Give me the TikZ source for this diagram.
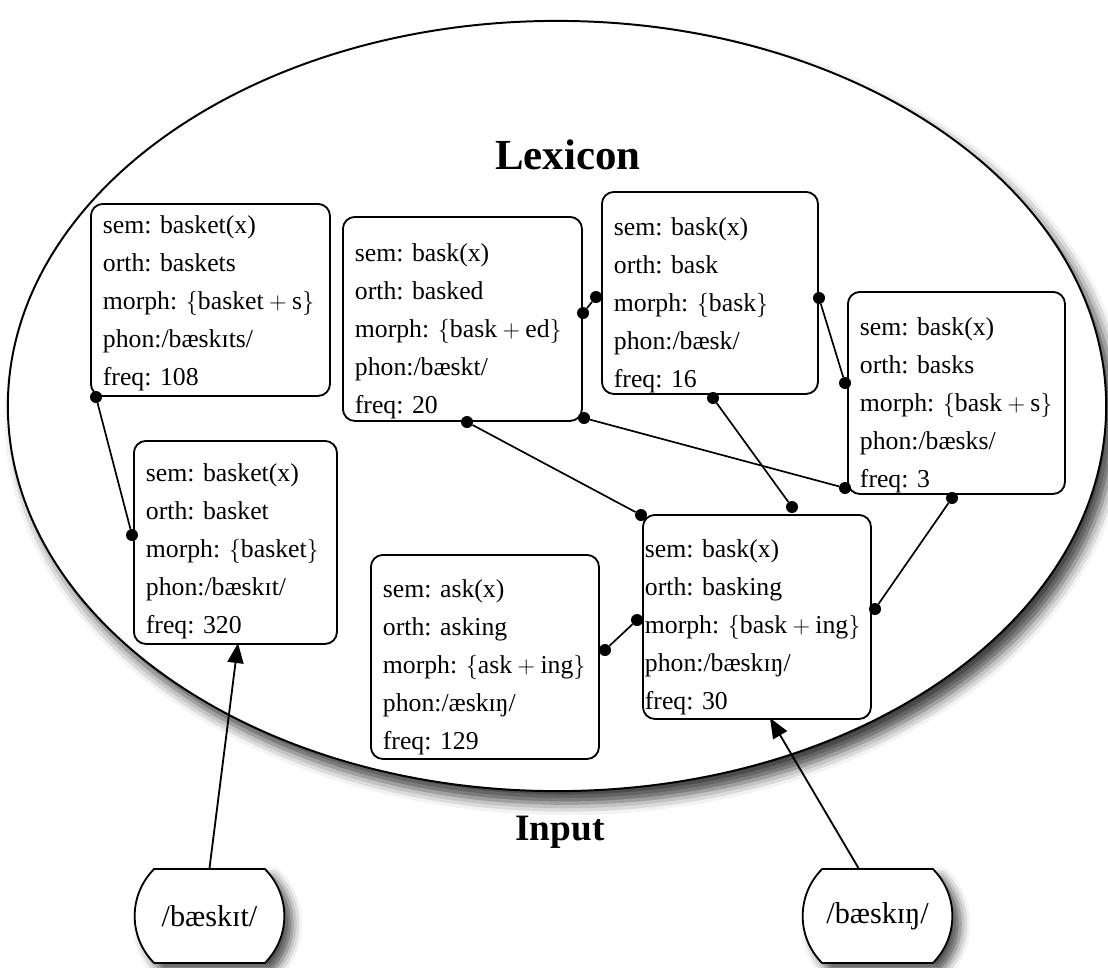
\documentclass[tikz,border=0pt]{standalone}
\usepackage{fontspec}
\setmainfont{Liberation Serif}
\usetikzlibrary{shapes.misc, shapes.geometric, shadows.blur, arrows.meta}

\frenchspacing
\newcommand{\lexfont}{\fontsize{18.3}{27}\selectfont}
\newcommand{\mrph}[1]{$\{\mbox{#1}\}$}
\newcommand{\lexgap}[1]{\rule{0pt}{#1}}

\begin{document}
\begin{tikzpicture}[x=0.025cm, y=-0.025cm,
    lexbox/.style={draw, line width=1.3pt, fill=white, rounded corners=0.3cm,
      align=left, anchor=north west, inner xsep=0.3cm, inner ysep=0pt, font=\lexfont},
    lexarea/.style={draw, ellipse, line width=1.4pt, fill=white,
      minimum width=27.45cm, minimum height=19.25cm,
      blur shadow={shadow xshift=0.22cm, shadow yshift=-0.3cm, shadow blur radius=0.3cm, shadow opacity=75}},
    inbox/.style={draw, rounded rectangle, rounded rectangle arc length=90, line width=1.3pt,
      fill=white, minimum width=3.975cm, minimum height=2.35cm, font=\fontsize{21.5}{26}\selectfont,
      blur shadow={shadow xshift=0.2cm, shadow yshift=-0.2cm, shadow blur radius=0.25cm, shadow opacity=70}},
    dot/.style={circle, fill=black, inner sep=0pt, minimum size=0.3cm},
    link/.style={line width=1.2pt},
    feed/.style={line width=1.3pt, -{Triangle[length=0.5cm, width=0.4cm]}}]
  \useasboundingbox (0,0) rectangle (1108,967);

  % Lexicon area
  \node[lexarea] (lexicon) at (557,406) {};
  \node[font=\fontsize{30.5}{36}\selectfont\bfseries] (lextitle) at (568,155) {Lexicon};
  \node[font=\fontsize{26.5}{32}\selectfont\bfseries] (intitle) at (560,832) {Input};

  % Entries
  \node[lexbox, text width=5.375cm, minimum height=4.8cm] (baskets) at (90,203)
    {\lexgap{0.62cm}sem: basket(x)\\ orth: baskets\\ morph: $\{\mbox{basket}+\mbox{s}\}$\\ phon:/bæskɪts/\\ freq: 108};
  \node[lexbox, text width=5.375cm, minimum height=5.1cm] (basked) at (342,216)
    {\lexgap{1.07cm}sem: bask(x)\\ orth: basked\\ morph: $\{\mbox{bask}+\mbox{ed}\}$\\ phon:/bæskt/\\ freq: 20};
  \node[lexbox, text width=4.8cm, minimum height=5.05cm] (bask) at (601,191)
    {\lexgap{1.07cm}sem: bask(x)\\ orth: bask\\ morph: \mrph{bask}\\ phon:/bæsk/\\ freq: 16};
  \node[lexbox, text width=4.825cm, minimum height=5.05cm] (basks) at (847,291)
    {\lexgap{1.07cm}sem: bask(x)\\ orth: basks\\ morph: $\{\mbox{bask}+\mbox{s}\}$\\ phon:/bæsks/\\ freq: 3};
  \node[lexbox, text width=4.475cm, minimum height=5.075cm] (basket) at (133,440)
    {\lexgap{0.875cm}sem: basket(x)\\ orth: basket\\ morph: \mrph{basket}\\ phon:/bæskɪt/\\ freq: 320};
  \node[lexbox, text width=5.1cm, minimum height=5.1cm] (asking) at (370,554)
    {\lexgap{0.95cm}sem: ask(x)\\ orth: asking\\ morph: $\{\mbox{ask}+\mbox{ing}\}$\\ phon:/æskɪŋ/\\ freq: 129};
  \node[lexbox, inner xsep=0.05cm, text width=5.6cm, minimum height=5.1cm] (basking) at (642,514)
    {\lexgap{0.95cm}sem: bask(x)\\ orth: basking\\ morph: $\{\mbox{bask}+\mbox{ing}\}$\\ phon:/bæskɪŋ/\\ freq: 30};

  % Link ends
  \node[dot] (bs1) at (96,397) {};
  \node[dot] (bt1) at (132,535) {};
  \node[dot] (bd1) at (583,313) {};
  \node[dot] (bk1) at (596,297) {};
  \node[dot] (bk2) at (819,298) {};
  \node[dot] (bx1) at (845,383) {};
  \node[dot] (bd2) at (467,422) {};
  \node[dot] (bg1) at (641,515) {};
  \node[dot] (bd3) at (584,418) {};
  \node[dot] (bx2) at (845,488) {};
  \node[dot] (bk3) at (713,398) {};
  \node[dot] (bg2) at (792,507) {};
  \node[dot] (bx3) at (952,498) {};
  \node[dot] (bg3) at (875,609) {};
  \node[dot] (ak1) at (605,650) {};
  \node[dot] (bg4) at (637,620) {};

  \draw[link] (bs1) -- (bt1);
  \draw[link] (bd1) -- (bk1);
  \draw[link] (bk2) -- (bx1);
  \draw[link] (bd2) -- (bg1);
  \draw[link] (bd3) -- (bx2);
  \draw[link] (bk3) -- (bg2);
  \draw[link] (bx3) -- (bg3);
  \draw[link] (ak1) -- (bg4);

  % Input
  \node[inbox] (in1) at (209.5,916) {/bæskɪt/};
  \node[inbox] (in2) at (877.5,916) {/bæskɪŋ/};
  \coordinate (tip1) at (238,643);
  \coordinate (tip2) at (770,718);
  \coordinate (src2) at (859,869);
  \draw[feed] (in1.north) -- (tip1);
  \draw[feed] (src2) -- (tip2);
\end{tikzpicture}
\end{document}
